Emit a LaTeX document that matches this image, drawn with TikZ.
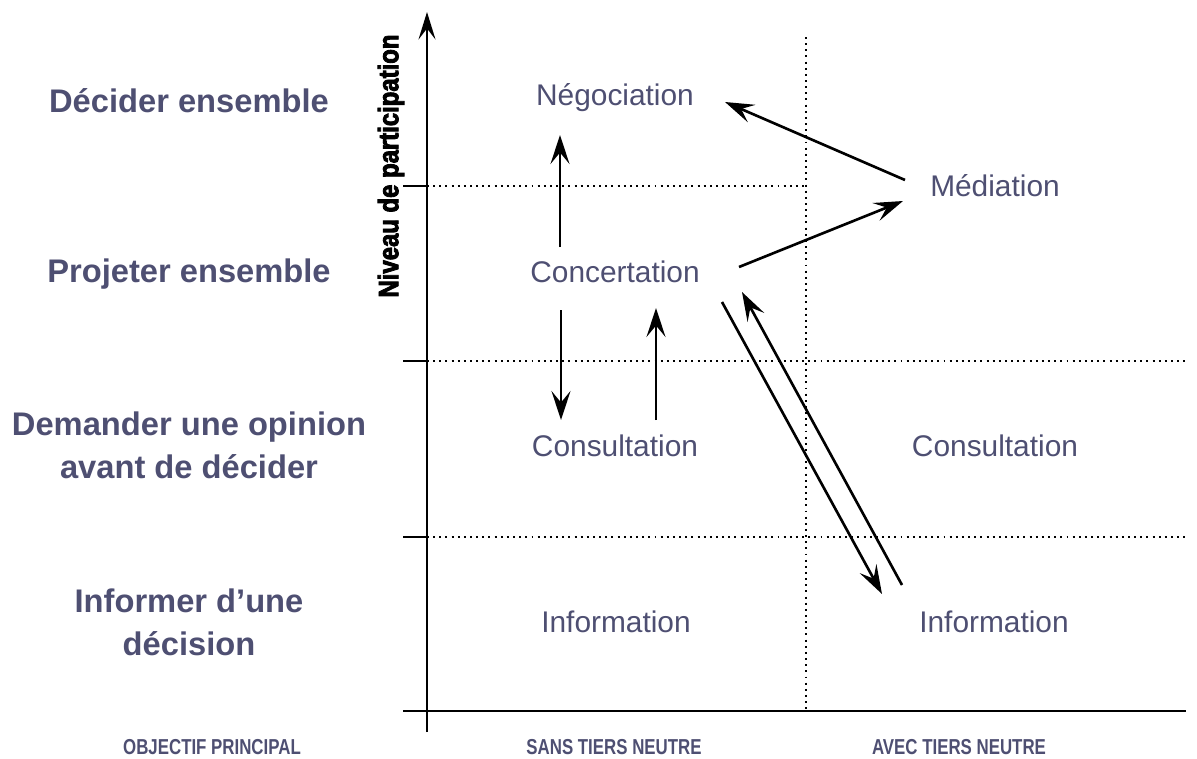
\documentclass[tikz,border=0pt]{standalone}
\usepackage{fontspec}
\setmainfont{Liberation Sans}
\newfontfamily\narrowfont[FakeStretch=0.78]{Liberation Sans}
\newfontfamily\axisfont[FakeStretch=0.85,BoldFeatures={FakeBold=3}]{Liberation Sans}
\usetikzlibrary{arrows.meta}
\definecolor{slate}{HTML}{4E4F72}

\begin{document}
\begin{tikzpicture}[x=0.02cm,y=-0.02cm]
    \tikzstyle{every node}+=[inner sep=0pt]
    \tikzstyle{level}=[font=\fontsize{17}{20}\selectfont, text=slate]
    \tikzstyle{goal}=[font=\bfseries\fontsize{18.6}{24.4}\selectfont, text=slate, align=center]
    \tikzstyle{column}=[font=\narrowfont\bfseries\fontsize{12.3}{14}\selectfont, text=slate]
    \tikzstyle{move}=[line width=1.5pt, -{Stealth[length=5.8mm,width=3.8mm,inset=2.3mm]}]
    \tikzstyle{grid}=[line width=1.1pt, dash pattern=on 1.1pt off 2.4pt]
    \useasboundingbox (0,0) rectangle (1197,758);
    % axes
    \draw [line width=1.3pt, -{Stealth[length=5.5mm,width=3.4mm,inset=2.2mm]}] (427,732) -- (427,12);
    \draw [line width=1.3pt] (403,711) -- (1186,711);
    \draw [line width=1.3pt] (403,186) -- (427,186);
    \draw [line width=1.3pt] (403,361) -- (427,361);
    \draw [line width=1.3pt] (403,537) -- (427,537);
    \node [rotate=90, font=\axisfont\bfseries\fontsize{16}{18}\selectfont] (axis) at (391,166) {Niveau de participation};
    % dotted grid
    \draw [grid] (427,186) -- (806,186);
    \draw [grid] (427,361) -- (1186,361);
    \draw [grid] (427,537) -- (1186,537);
    \draw [grid] (806,37) -- (806,711);
    % objectives
    \node [goal] (decider) at (189,101) {Décider ensemble};
    \node [goal] (projeter) at (189,274) {Projeter ensemble};
    \node [goal] (demander) at (189,445) {Demander une opinion\\avant de décider};
    \node [goal] (informer) at (189,622) {Informer d’une\\décision};
    % levels
    \node [level] (nego) at (615,98) {Négociation};
    \node [level] (medi) at (995,186) {Médiation};
    \node [level] (conc) at (615,272) {Concertation};
    \node [level] (cons) at (615,446) {Consultation};
    \node [level] (consR) at (995,446) {Consultation};
    \node [level] (info) at (616,622) {Information};
    \node [level] (infoR) at (994,622) {Information};
    % columns
    \node [column] (objectif) at (212,747) {OBJECTIF PRINCIPAL};
    \node [column] (sans) at (614,747) {SANS TIERS NEUTRE};
    \node [column] (avec) at (959,747) {AVEC TIERS NEUTRE};
    % moves
    \draw [move] ([shift={(-55,-25)}]conc.center) -- ([shift={(-55,37)}]nego.center);
    \draw [move] ([shift={(-54,38)}]conc.center) -- ([shift={(-54,-26)}]cons.center);
    \draw [move] ([shift={(41,-26)}]cons.center) -- ([shift={(41,36)}]conc.center);
    \draw [move] ([shift={(-90,-6)}]medi.center) -- ([shift={(110,4)}]nego.center);
    \draw [move] ([shift={(124,-5)}]conc.center) -- ([shift={(-92,15)}]medi.center);
    \draw [move] ([shift={(107,30)}]conc.center) -- ([shift={(-112,-28)}]infoR.center);
    \draw [move] ([shift={(-92,-37)}]infoR.center) -- ([shift={(127,20)}]conc.center);
\end{tikzpicture}
\end{document}
